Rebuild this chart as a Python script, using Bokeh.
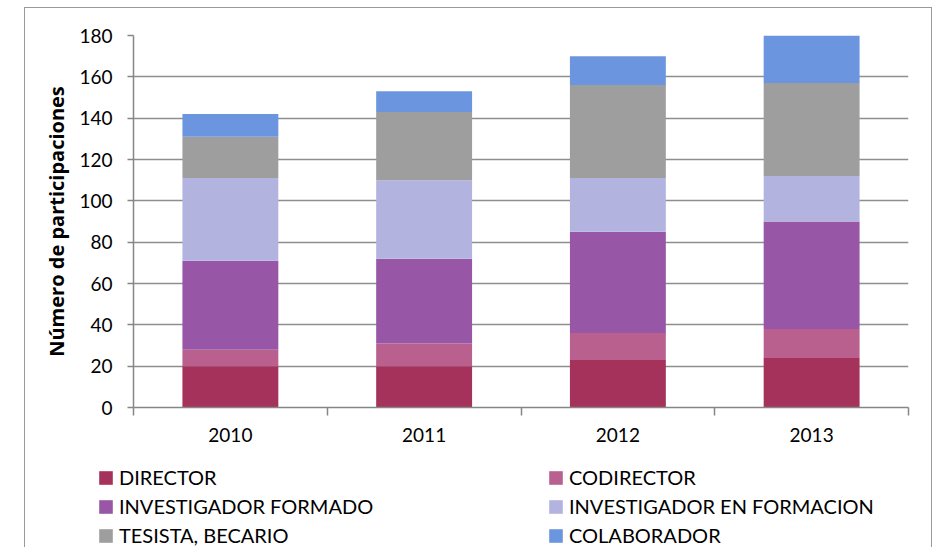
from bokeh.plotting import figure
from bokeh.layouts import column
from bokeh.models import (Range1d, FixedTicker, Legend, LegendItem, InlineStyleSheet)
from bokeh.embed import file_html
from bokeh.resources import INLINE

years = ["2010", "2011", "2012", "2013"]
series = ["DIRECTOR", "CODIRECTOR", "INVESTIGADOR FORMADO",
          "INVESTIGADOR EN FORMACION", "TESISTA, BECARIO", "COLABORADOR"]
director = [20, 20, 23, 24]
codirector = [8, 11, 13, 14]
inv_formado = [43, 41, 49, 52]
inv_en_formacion = [40, 38, 26, 22]
tesista = [20, 33, 45, 45]
colaborador = [11, 10, 14, 23]
colors = ["#A4325A", "#B9608E", "#9857A6", "#B3B3E0", "#9E9E9E", "#6C95E0"]
y_ticks = [0, 20, 40, 60, 80, 100, 120, 140, 160, 180]

values = [director, codirector, inv_formado, inv_en_formacion, tesista, colaborador]

FONT = "Lato"
W = 935
H_MAIN = 450
H_LEG = 97

p = figure(width=W, height=H_MAIN, output_backend="svg", toolbar_location=None,
           x_range=Range1d(0, len(years)), y_range=Range1d(0, 180),
           min_border_left=133, min_border_right=27, min_border_top=35,
           min_border_bottom=43)
p.frame_align = False
p.outline_line_color = None
p.background_fill_color = "white"
p.border_fill_color = "white"

xs = [i + 0.5 for i in range(len(years))]
bottoms = [0] * len(years)
for vals, col in zip(values, colors):
    tops = [b + v for b, v in zip(bottoms, vals)]
    p.vbar(x=xs, bottom=bottoms, top=tops, width=0.495, fill_color=col,
           line_color=None)
    bottoms = tops

# axes
p.xaxis.ticker = FixedTicker(ticks=xs, minor_ticks=list(range(len(years) + 1)))
p.xaxis.major_label_overrides = {x: y for x, y in zip(xs, years)}
p.xaxis.major_tick_line_color = None
p.xaxis.minor_tick_out = 8
p.xaxis.minor_tick_in = 0
p.xaxis.minor_tick_line_color = "#868686"
p.xaxis.minor_tick_line_width = 1.5
p.xaxis.axis_line_color = "#868686"
p.xaxis.axis_line_width = 1.5
p.xaxis.major_label_standoff = 12
p.xaxis.major_label_text_font = FONT
p.xaxis.major_label_text_font_size = "19px"
p.xaxis.major_label_text_color = "black"

p.yaxis.ticker = FixedTicker(ticks=y_ticks)
p.yaxis.minor_tick_line_color = None
p.yaxis.major_tick_out = 6
p.yaxis.major_tick_in = 0
p.yaxis.major_tick_line_color = "#868686"
p.yaxis.major_tick_line_width = 1.5
p.yaxis.axis_line_color = "#868686"
p.yaxis.axis_line_width = 1.5
p.yaxis.major_label_standoff = 15
p.yaxis.major_label_text_font = FONT
p.yaxis.major_label_text_font_size = "19px"
p.yaxis.major_label_text_color = "black"
p.yaxis.axis_label = "Número de participaciones"
p.yaxis.axis_label_text_font = "Open Sans"
p.yaxis.axis_label_text_font_style = "bold"
p.yaxis.axis_label_text_font_size = "20px"
p.yaxis.axis_label_text_color = "black"
p.yaxis.axis_label_standoff = 6

p.xgrid.grid_line_color = None
p.ygrid.ticker = FixedTicker(ticks=y_ticks)
p.ygrid.grid_line_color = "#8e8e8e"
p.ygrid.grid_line_width = 1.5
p.ygrid.level = "underlay"

# legend strip below the chart
lp = figure(width=W, height=H_LEG, output_backend="svg", toolbar_location=None,
            x_axis_type=None, y_axis_type=None,
            x_range=Range1d(0, 1), y_range=Range1d(0, 1),
            min_border=0)
lp.frame_align = False
lp.outline_line_color = None
lp.grid.visible = False
lp.background_fill_color = "white"
lp.border_fill_color = "white"

# zero-height swatch renderers (only used to draw the legend squares)
swatches = [lp.vbar(x=[-5], bottom=[0], top=[0], width=0.5, fill_color=c,
                    line_color=None) for c in colors]

def make_legend(idx, x):
    items = [LegendItem(label=series[i], renderers=[swatches[i]]) for i in idx]
    return Legend(items=items, location=(x, 0), orientation="vertical",
                  glyph_width=17, glyph_height=17, label_height=22,
                  spacing=5, padding=0, margin=0, label_standoff=5,
                  border_line_color=None, background_fill_alpha=0,
                  label_text_font=FONT, label_text_font_size="20px",
                  label_text_color="black")

lp.add_layout(make_legend([0, 2, 4], 97))
lp.add_layout(make_legend([1, 3, 5], 547))

layout = column(p, lp, spacing=0)
layout.stylesheets = [InlineStyleSheet(css="""
:host { position: relative; }
:host::after { content: ''; position: absolute; left: 24px; top: 7px;
  right: 3px; bottom: -20px; border: 1.5px solid #9a9a9a;
  pointer-events: none; z-index: 10; }
""")]

open("out.html", "w").write(file_html(layout, INLINE))
